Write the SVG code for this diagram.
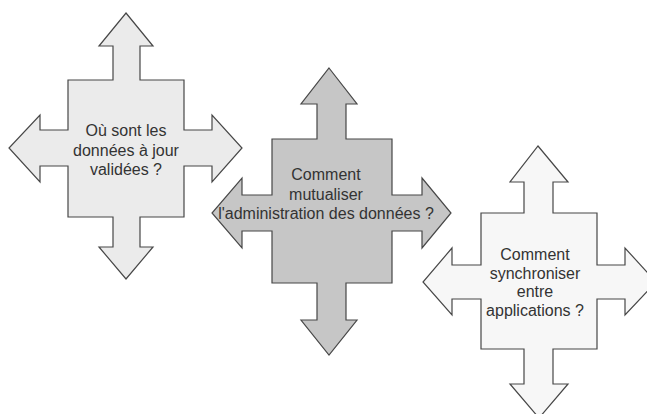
<svg xmlns="http://www.w3.org/2000/svg" width="647" height="414" viewBox="0 0 647 414">
  <style>
    .cross { stroke: #474747; stroke-width: 1.2; stroke-linejoin: miter; }
    .q { font-family: "Liberation Sans", Arial, sans-serif; font-size: 16px; fill: #333333; text-anchor: middle; }
  </style>
  <rect width="647" height="414" fill="#ffffff"/>

  <!-- Four-way arrow: where is the validated up-to-date data -->
  <g id="node-donnees-a-jour">
    <path class="cross" fill="#ebebeb" d="M126,13 L153,46 L140,46 L140,80 L184,80 L184,130 L212,130 L212,115 L242,148 L212,182 L212,166 L184,166 L184,217 L140,217 L140,247 L153,247 L126,279 L99,247 L113,247 L113,217 L68,217 L68,166 L40,166 L40,182 L9,148 L40,115 L40,130 L68,130 L68,80 L113,80 L113,46 L99,46 Z"/>
    <text class="q" x="126" y="136">Où sont les</text>
    <text class="q" x="126" y="155.5">données à jour</text>
    <text class="q" x="126" y="175">validées ?</text>
  </g>

  <!-- Four-way arrow: shared administration of data -->
  <g id="node-mutualiser">
    <path class="cross" fill="#c6c6c6" d="M329,68 L357,104 L346,104 L346,139 L392,139 L392,195 L422,195 L422,178 L451,213 L422,248 L422,231 L392,231 L392,283 L346,283 L346,320 L357,320 L329,355 L301,320 L317,320 L317,283 L272,283 L272,231 L242,231 L242,248 L212,213 L242,178 L242,195 L272,195 L272,139 L317,139 L317,104 L301,104 Z"/>
    <text class="q" x="326" y="180">Comment</text>
    <text class="q" x="326" y="199.5">mutualiser</text>
    <text class="q" x="326" y="219">l'administration des données ?</text>
  </g>

  <!-- Four-way arrow: synchronisation between applications -->
  <g id="node-synchroniser">
    <path class="cross" fill="#f7f7f7" d="M538,146 L568,182 L553,182 L553,213 L597,213 L597,265 L625,265 L625,248 L656,282 L625,315 L625,299 L597,299 L597,349 L553,349 L553,384 L568,384 L539,418 L510,384 L524,384 L524,349 L481,349 L481,299 L452,299 L452,315 L423,282 L452,248 L452,265 L481,265 L481,213 L524,213 L524,182 L510,182 Z"/>
    <text class="q" x="535" y="260">Comment</text>
    <text class="q" x="535" y="278.5">synchroniser</text>
    <text class="q" x="535" y="297">entre</text>
    <text class="q" x="535" y="315.5">applications ?</text>
  </g>
</svg>
